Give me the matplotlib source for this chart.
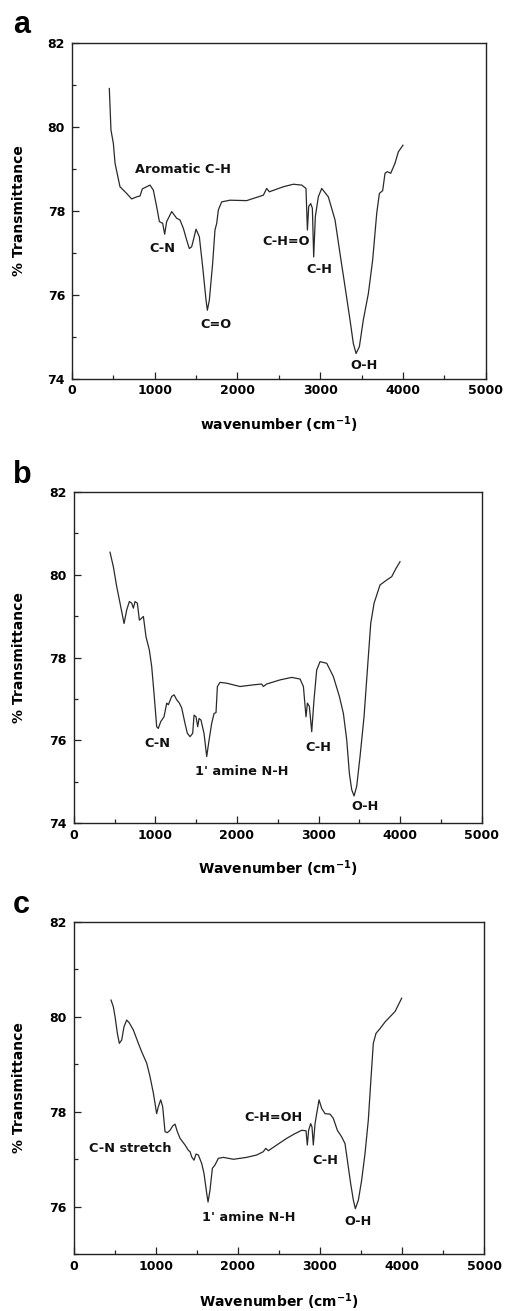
import matplotlib
matplotlib.use("Agg")
import matplotlib.pyplot as plt
from matplotlib.ticker import MultipleLocator

plt.rcParams['font.family'] = ['DejaVu Sans']
plt.rcParams['mathtext.default'] = 'bf'

# ---- Panel a data ----
wn_a = [451, 471, 500, 520, 580, 661, 721, 782, 822, 850, 902, 943, 983, 1023, 1056, 1096,
        1120, 1144, 1205, 1265, 1305, 1346, 1386, 1418, 1446, 1467, 1499, 1539, 1579, 1620,
        1636, 1660, 1700, 1728, 1749, 1769, 1809, 1910, 2111, 2313, 2353, 2385, 2554, 2675,
        2776, 2828, 2845, 2861, 2885, 2905, 2921, 2941, 2977, 3018, 3098, 3179, 3239, 3300,
        3360, 3400, 3433, 3473, 3521, 3582, 3634, 3683, 3715, 3755, 3783, 3811, 3852, 3904,
        3944, 4000]
tr_a = [80.91, 79.92, 79.6, 79.13, 78.57, 78.41, 78.28, 78.33, 78.35, 78.52, 78.57, 78.61,
        78.49, 78.1, 77.74, 77.7, 77.44, 77.74, 77.98, 77.82, 77.78, 77.58, 77.30, 77.10,
        77.14, 77.30, 77.56, 77.38, 76.67, 75.87, 75.63, 75.87, 76.75, 77.54, 77.70, 78.02,
        78.21, 78.25, 78.24, 78.37, 78.53, 78.45, 78.57, 78.63, 78.61, 78.53, 77.54, 78.1,
        78.17, 78.06, 76.90, 77.86, 78.33, 78.53, 78.33, 77.78, 76.98, 76.19, 75.40, 74.84,
        74.6, 74.76, 75.40, 76.03, 76.83, 77.94, 78.41, 78.48, 78.89, 78.93, 78.89, 79.13,
        79.40, 79.56]
labels_a = ["Aromatic C-H", "C-N", "C=O", "C-H=O", "C-H", "O-H"]
lab_x_a = [1342, 1092, 1736, 2583, 2986, 3525]
lab_y_a = [78.97, 77.10, 75.28, 77.26, 76.60, 74.31]

# ---- Panel b data ----
wn_b = [445, 486, 527, 576, 617, 650, 682, 711, 731, 752, 780, 805, 833, 854, 886, 927, 956,
        984, 1017, 1037, 1066, 1107, 1140, 1160, 1201, 1230, 1262, 1295, 1324, 1364, 1393,
        1426, 1458, 1475, 1499, 1520, 1536, 1560, 1597, 1630, 1659, 1691, 1720, 1744, 1761,
        1793, 1875, 2038, 2202, 2304, 2324, 2365, 2529, 2672, 2774, 2815, 2847, 2864, 2888,
        2917, 2945, 2978, 3019, 3101, 3182, 3256, 3305, 3346, 3378, 3407, 3436, 3468, 3509,
        3558, 3599, 3640, 3681, 3754, 3836, 3897, 3950, 3999]
tr_b = [80.54, 80.19, 79.71, 79.23, 78.82, 79.15, 79.35, 79.31, 79.19, 79.35, 79.31, 78.9,
        78.95, 78.99, 78.50, 78.18, 77.78, 77.14, 76.33, 76.29, 76.45, 76.57, 76.90, 76.86,
        77.06, 77.10, 76.98, 76.90, 76.78, 76.41, 76.17, 76.09, 76.17, 76.61, 76.57, 76.33,
        76.53, 76.49, 76.17, 75.61, 76.01, 76.41, 76.65, 76.67, 77.30, 77.40, 77.38, 77.30,
        77.34, 77.36, 77.30, 77.36, 77.46, 77.52, 77.48, 77.30, 76.57, 76.90, 76.82, 76.21,
        76.98, 77.70, 77.90, 77.86, 77.54, 77.06, 76.65, 76.01, 75.21, 74.81, 74.66, 74.89,
        75.61, 76.57, 77.70, 78.82, 79.31, 79.75, 79.87, 79.95, 80.15, 80.31]
labels_b = ["C-N", "1' amine N-H", "C-H", "O-H"]
lab_x_b = [1021, 2059, 3002, 3574]
lab_y_b = [75.93, 75.25, 75.83, 74.40]

# ---- Panel c data ----
wn_c = [455, 483, 504, 532, 556, 585, 613, 646, 678, 727, 788, 829, 890, 930, 971, 1011,
        1032, 1060, 1084, 1113, 1141, 1174, 1206, 1235, 1263, 1296, 1357, 1397, 1418, 1438,
        1466, 1491, 1519, 1560, 1588, 1621, 1637, 1661, 1690, 1722, 1763, 1824, 1946, 2108,
        2230, 2311, 2340, 2372, 2474, 2595, 2697, 2778, 2831, 2847, 2863, 2888, 2904, 2920,
        2941, 2961, 2990, 3022, 3063, 3124, 3164, 3213, 3266, 3306, 3335, 3375, 3408, 3432,
        3469, 3509, 3550, 3590, 3619, 3651, 3684, 3733, 3794, 3855, 3916, 3997]
tr_c = [80.35, 80.21, 80.0, 79.65, 79.44, 79.51, 79.79, 79.93, 79.87, 79.72, 79.44, 79.26,
        79.02, 78.74, 78.39, 77.96, 78.11, 78.25, 78.11, 77.58, 77.56, 77.61, 77.70, 77.74,
        77.58, 77.44, 77.30, 77.19, 77.16, 77.05, 76.98, 77.11, 77.09, 76.91, 76.70, 76.28,
        76.1, 76.35, 76.81, 76.88, 77.02, 77.04, 77.0, 77.04, 77.09, 77.16, 77.23, 77.18,
        77.30, 77.44, 77.54, 77.61, 77.60, 77.30, 77.61, 77.75, 77.68, 77.30, 77.75, 77.96,
        78.25, 78.07, 77.96, 77.95, 77.86, 77.61, 77.47, 77.33, 76.98, 76.49, 76.14, 75.96,
        76.14, 76.56, 77.12, 77.82, 78.60, 79.44, 79.65, 79.75, 79.89, 80.0, 80.11, 80.39]
labels_c = ["C-N stretch", "C-H=OH", "C-H", "1' amine N-H", "O-H"]
lab_x_c = [686, 2433, 3071, 2136, 3469]
lab_y_c = [77.23, 77.88, 76.98, 75.78, 75.68]

W, H = 505, 1311
fig = plt.figure(figsize=(W / 100, H / 100), dpi=100)


def make_axes(left, top, right, bottom):
    return fig.add_axes([left / W, 1 - bottom / H, (right - left) / W, (bottom - top) / H])


panels = [
    dict(box=(72, 42.7, 485.7, 378.7), wn=wn_a, tr=tr_a, labels=labels_a, lx=lab_x_a, ly=lab_y_a,
         ylim=(74, 82), xlabel='wavenumber (cm$^{-1}$)', letter='a', letter_y=33, xlab_y=-0.138),
    dict(box=(73.7, 491.7, 481.7, 823.3), wn=wn_b, tr=tr_b, labels=labels_b, lx=lab_x_b, ly=lab_y_b,
         ylim=(74, 82), xlabel='Wavenumber (cm$^{-1}$)', letter='b', letter_y=483, xlab_y=-0.138),
    dict(box=(73.7, 921.7, 484, 1254.3), wn=wn_c, tr=tr_c, labels=labels_c, lx=lab_x_c, ly=lab_y_c,
         ylim=(75, 82), xlabel='Wavenumber (cm$^{-1}$)', letter='c', letter_y=913, xlab_y=-0.1425),
]

for p in panels:
    left, top, right, bottom = p['box']
    ax = make_axes(left, top, right, bottom)
    ax.plot(p['wn'], p['tr'], color='#2a2a2a', lw=0.9)
    ax.set_xlim(0, 5000)
    ax.set_ylim(*p['ylim'])
    ax.xaxis.set_major_locator(MultipleLocator(1000))
    ax.xaxis.set_minor_locator(MultipleLocator(500))
    ax.yaxis.set_major_locator(MultipleLocator(2))
    ax.yaxis.set_minor_locator(MultipleLocator(1))
    ax.tick_params(which='both', direction='in', top=False, right=False, width=0.9, color='#222')
    ax.tick_params(which='major', length=5)
    ax.tick_params(which='minor', length=3)
    ax.tick_params(axis='x', pad=4)
    ax.tick_params(axis='y', pad=5)
    for lab in ax.get_xticklabels() + ax.get_yticklabels():
        lab.set_fontweight('bold')
        lab.set_fontsize(9)
    for s in ax.spines.values():
        s.set_linewidth(1.0)
        s.set_color('#222')
    ax.set_ylabel('% Transmittance', fontsize=10, fontweight='bold', va='center')
    ax.yaxis.set_label_coords((19 - left) / (right - left), 0.5)
    ax.set_xlabel(p['xlabel'], fontsize=10, fontweight='bold', va='center')
    ax.xaxis.set_label_coords(0.5, p['xlab_y'])
    for t, x, y in zip(p['labels'], p['lx'], p['ly']):
        ax.text(x, y, t, fontsize=9.3, fontweight='bold', ha='center', va='center', color='#111')
    fig.text(13 / W, 1 - p['letter_y'] / H, p['letter'], fontsize=22, fontweight='bold',
             family='Liberation Sans', ha='left', va='baseline')

fig.savefig('out.png', dpi=100)
